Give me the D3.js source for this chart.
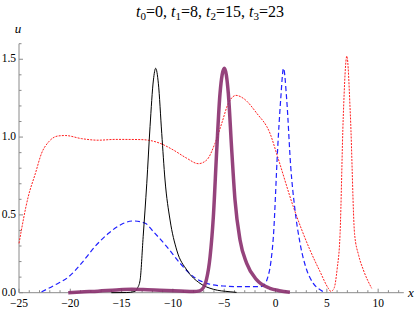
<!DOCTYPE html>
<html>
<head>
<meta charset="utf-8">
<script src="https://cdn.jsdelivr.net/npm/d3@7"></script>
<style>
  body { margin: 0; background: #fff; }
  svg { display: block; }
</style>
</head>
<body>
<div id="chart"></div>
<script>
// --- data ---
const xTicksMajor = [-25, -20, -15, -10, -5, 0, 5, 10];
const yTicksMajor = [0, 0.5, 1.0, 1.5];

// t0 : thin black solid
const blackX = [-16, -14.5, -13.7, -13.45, -13.2, -12.9, -12.55, -12.23, -11.9, -11.68, -11.42, -11.09, -10.77, -10.28, -9.63, -8.65, -7.36, -6.06, -4.43, -3.8];
const blackU = [0, 0.001, 0.008, 0.03, 0.08, 0.36, 0.70, 1.067, 1.367, 1.442, 1.346, 1.024, 0.724, 0.467, 0.274, 0.146, 0.06, 0.022, 0.006, 0.002];

// t1 : thick purple
const purpleX = [-20.2, -19, -17.3, -15.5, -14, -12.5, -11.3, -9.3, -8.0, -7.4, -7.0, -6.74, -6.38, -6.06, -5.73, -5.41, -4.99, -4.6, -4.27, -3.95, -3.46, -2.81, -1.83, -0.54, 0.37, 1.4];
const purpleU = [0.0, 0.005, 0.01, 0.018, 0.022, 0.019, 0.016, 0.011, 0.007, 0.012, 0.035, 0.082, 0.23, 0.488, 0.917, 1.28, 1.442, 1.28, 0.917, 0.596, 0.339, 0.189, 0.082, 0.028, 0.013, 0.003];

// t2 : blue dashed
const blueX = [-22.8, -21.5, -20.2, -18.9, -17.6, -16.3, -15.0, -13.86, -12.7, -11.9, -10.6, -9.3, -8.0, -6.7, -5.1, -3.46, -1.5, -1.2, -0.8, -0.45, -0.21, 0.2, 0.5, 0.78, 1.09, 1.48, 1.9, 2.39, 3.04, 3.68, 4.5, 4.8];
const blueU = [0.005, 0.05, 0.10, 0.19, 0.296, 0.38, 0.44, 0.461, 0.446, 0.392, 0.296, 0.189, 0.103, 0.06, 0.043, 0.039, 0.039, 0.045, 0.09, 0.2, 0.36, 0.917, 1.24, 1.442, 1.24, 0.81, 0.53, 0.317, 0.146, 0.06, 0.013, 0.0];

// t3 : red dotted
const redX = [-25, -24.1, -23.4, -22.8, -22.1, -21.2, -20.5, -18.9, -17.3, -15.6, -13.2, -12.0, -11.26, -9.96, -8.65, -7.52, -6.7, -5.9, -5.24, -4.6, -3.85, -3.14, -1.83, -0.54, 0.2, 1.73, 3.36, 4.34, 5.15, 5.4, 5.7, 6.0, 6.29, 6.6, 6.95, 7.3, 7.7, 8.1, 8.56, 9.37];
const redU = [0.317, 0.617, 0.767, 0.896, 0.97, 1.007, 1.01, 0.99, 0.98, 0.985, 0.984, 0.975, 0.96, 0.917, 0.864, 0.829, 0.853, 0.96, 1.089, 1.217, 1.268, 1.249, 1.153, 1.024, 0.874, 0.553, 0.274, 0.135, 0.028, 0.008, 0.028, 0.15, 0.38, 1.13, 1.52, 1.13, 0.38, 0.24, 0.146, 0.028];

// --- setup ---
const width = 415, height = 312;
const svg = d3.select('#chart').append('svg')
    .attr('width', width)
    .attr('height', height)
    .attr('font-family', "'Liberation Serif', 'Times New Roman', 'DejaVu Serif', serif");

const x = d3.scaleLinear().domain([-25, 12.5]).range([19, 403.8]);
const y = d3.scaleLinear().domain([0, 1.6]).range([292.7, 43.7]);

const axisColor = '#8a8a8a';
const minus = s => s.replace('-', '\u2212');

// title
const title = svg.append('text')
    .attr('x', 210).attr('y', 17)
    .attr('text-anchor', 'middle')
    .attr('font-size', 16);
[['0', '0'], ['1', '8'], ['2', '15'], ['3', '23']].forEach(([sub, val], k) => {
    title.append('tspan').attr('font-style', 'italic').text('t');
    title.append('tspan').attr('dy', 3).attr('font-size', 11).text(sub);
    title.append('tspan').attr('dy', -3).text('=' + val + (k < 3 ? ', ' : ''));
});

// --- axes ---
const gx = svg.append('g').attr('transform', `translate(0,${y(0)})`);
gx.append('line').attr('x1', x(-25)).attr('x2', x(12.5)).attr('stroke', axisColor);
gx.selectAll('line.minor').data(d3.range(-25, 13, 1)).join('line')
    .attr('class', 'minor')
    .attr('x1', d => x(d)).attr('x2', d => x(d))
    .attr('y1', 0).attr('y2', d => xTicksMajor.includes(d) ? -4 : -2.5)
    .attr('stroke', axisColor);
gx.selectAll('text').data(xTicksMajor).join('text')
    .attr('x', d => x(d)).attr('y', 14)
    .attr('text-anchor', 'middle')
    .attr('font-size', 11.5)
    .text(d => minus(d3.format('d')(d)));

const gy = svg.append('g').attr('transform', `translate(${x(-25)},0)`);
gy.append('line').attr('y1', y(0)).attr('y2', y(1.6)).attr('stroke', axisColor);
gy.selectAll('line.minor').data(d3.range(0, 17).map(d => d / 10)).join('line')
    .attr('class', 'minor')
    .attr('y1', d => y(d)).attr('y2', d => y(d))
    .attr('x1', 0).attr('x2', d => yTicksMajor.some(t => Math.abs(t - d) < 1e-9) ? 4 : 2.5)
    .attr('stroke', axisColor);
gy.selectAll('text').data(yTicksMajor).join('text')
    .attr('x', -3).attr('y', d => y(d) + 3)
    .attr('text-anchor', 'end')
    .attr('font-size', 11.5)
    .text(d => d3.format('.1f')(d));

svg.append('text').attr('x', 18).attr('y', 33)
    .attr('text-anchor', 'middle')
    .attr('font-style', 'italic').attr('font-size', 13)
    .text('u');
svg.append('text').attr('x', 411).attr('y', 297)
    .attr('text-anchor', 'middle')
    .attr('font-style', 'italic').attr('font-size', 13)
    .text('x');

// --- curves ---
const line = d3.line()
    .x(d => x(d[0]))
    .y(d => y(d[1]))
    .curve(d3.curveMonotoneX);

const series = [
    { xs: redX, us: redU, color: '#ff2020', w: 1, dash: '2,1.2' },
    { xs: blueX, us: blueU, color: '#2020ff', w: 1.2, dash: '5,3' },
    { xs: blackX, us: blackU, color: '#000', w: 1, dash: null },
    { xs: purpleX, us: purpleU, color: '#8a2f6e', w: 3.5, dash: null, op: 0.9 }
];

svg.selectAll('path.curve').data(series).join('path')
    .attr('class', 'curve')
    .attr('d', s => line(d3.zip(s.xs, s.us)))
    .attr('fill', 'none')
    .attr('stroke', s => s.color)
    .attr('stroke-width', s => s.w)
    .attr('stroke-opacity', s => s.op || 1)
    .attr('stroke-dasharray', s => s.dash);
</script>
</body>
</html>
